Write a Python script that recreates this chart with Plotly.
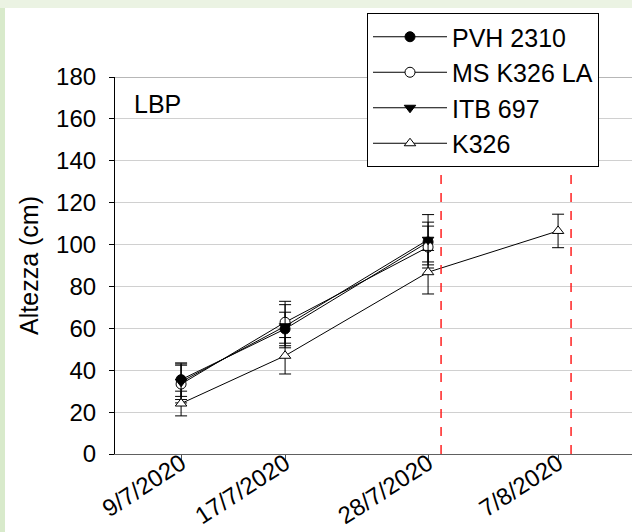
import plotly.graph_objects as go

# ---- data ----
dates = ["2020-07-09", "2020-07-17", "2020-07-28", "2020-08-07"]
tick_labels = ["9/7/2020", "17/7/2020", "28/7/2020", "7/8/2020"]

pvh_2310 = [35.5, 59.7, 101.2, None]
pvh_2310_err = [8.0, 8.0, 9.5, None]

ms_k326_la = [33.4, 62.9, 98.8, None]
ms_k326_la_err = [9.0, 10.0, 10.0, None]

itb_697 = [34.5, 61.0, 102.3, None]
itb_697_err = [8.5, 10.3, 12.0, None]

k326 = [24.1, 46.9, 86.8, 106.5]
k326_err = [5.9, 8.7, 10.4, 8.0]

cutoff_dates = ["2020-07-29", "2020-08-08"]

y_ticks = [0, 20, 40, 60, 80, 100, 120, 140, 160, 180]

FONT = "Liberation Sans, Arial, sans-serif"

fig = go.Figure()

series = [
    ("PVH 2310", pvh_2310, pvh_2310_err, "circle", "black"),
    ("MS K326 LA", ms_k326_la, ms_k326_la_err, "circle", "white"),
    ("ITB 697", itb_697, itb_697_err, "triangle-down", "black"),
    ("K326", k326, k326_err, "triangle-up", "white"),
]

for name, vals, errs, sym, fill in series:
    fig.add_trace(go.Scatter(
        x=dates, y=vals, name=name, mode="lines+markers",
        line=dict(color="black", width=1),
        marker=dict(symbol=sym, size=10, color=fill,
                    line=dict(color="black", width=1)),
        error_y=dict(type="data", array=errs, visible=True,
                     color="black", thickness=1, width=6),
        connectgaps=False,
    ))

# red dashed reference lines
for d in cutoff_dates:
    fig.add_shape(type="line", xref="x", yref="paper", x0=d, x1=d, y0=0, y1=1,
                  line=dict(color="#ff2020", width=1.5, dash="dash"), layer="above")

# darker top frame line at 180 (extends like a tick)
fig.add_shape(type="line", xref="paper", yref="y", x0=-5/517, x1=1, y0=180, y1=180,
              line=dict(color="#707070", width=1.2), layer="below")

# green page frame strips
fig.add_shape(type="rect", xref="paper", yref="paper",
              x0=-115/517, x1=1.01, y0=1 + 69/377, y1=1 + 78/377,
              line=dict(width=0), fillcolor="#ebf3e3", layer="below")
fig.add_shape(type="rect", xref="paper", yref="paper",
              x0=-115/517, x1=-110/517, y0=-79/377, y1=1 + 69/377,
              line=dict(width=0), fillcolor="#d8eacb", layer="below")

fig.add_annotation(text="LBP", xref="paper", yref="paper",
                   x=17/517, y=1 - 27/377, xanchor="left", yanchor="middle",
                   showarrow=False, font=dict(family=FONT, size=25, color="black"))

fig.update_layout(
    width=632, height=532,
    margin=dict(l=115, r=0, t=77, b=78),
    paper_bgcolor="white", plot_bgcolor="white",
    font=dict(family=FONT, color="black"),
    showlegend=True,
    legend=dict(
        x=252/517, y=1 + 64/377, xanchor="left", yanchor="top",
        bgcolor="white", bordercolor="black", borderwidth=1,
        font=dict(family=FONT, size=25, color="black"),
        itemwidth=74,
    ),
    xaxis=dict(
        type="date", automargin=False,
        range=["2020-07-03 22:00", "2020-08-12 16:30"],
        tickmode="array", tickvals=dates, ticktext=tick_labels,
        tickangle=-33, ticks="outside", ticklen=5, tickcolor="#505050",
        ticklabelstandoff=-20,
        tickfont=dict(family=FONT, size=24, color="black"),
        showgrid=False, zeroline=False,
        showline=True, linecolor="#606060", linewidth=1.2,
    ),
    yaxis=dict(
        range=[0, 180], tickmode="array", tickvals=y_ticks, automargin=False,
        ticks="outside", ticklen=5, tickcolor="black", ticklabelstandoff=8,
        tickfont=dict(family=FONT, size=24, color="black"),
        showgrid=True, gridcolor="#d0d0d0", gridwidth=1,
        zeroline=False, showline=True, linecolor="black", linewidth=1.2,
        title=dict(text="Altezza (cm)", font=dict(family=FONT, size=25, color="black"),
                   standoff=10),
    ),
)

fig.write_html("out.html")
